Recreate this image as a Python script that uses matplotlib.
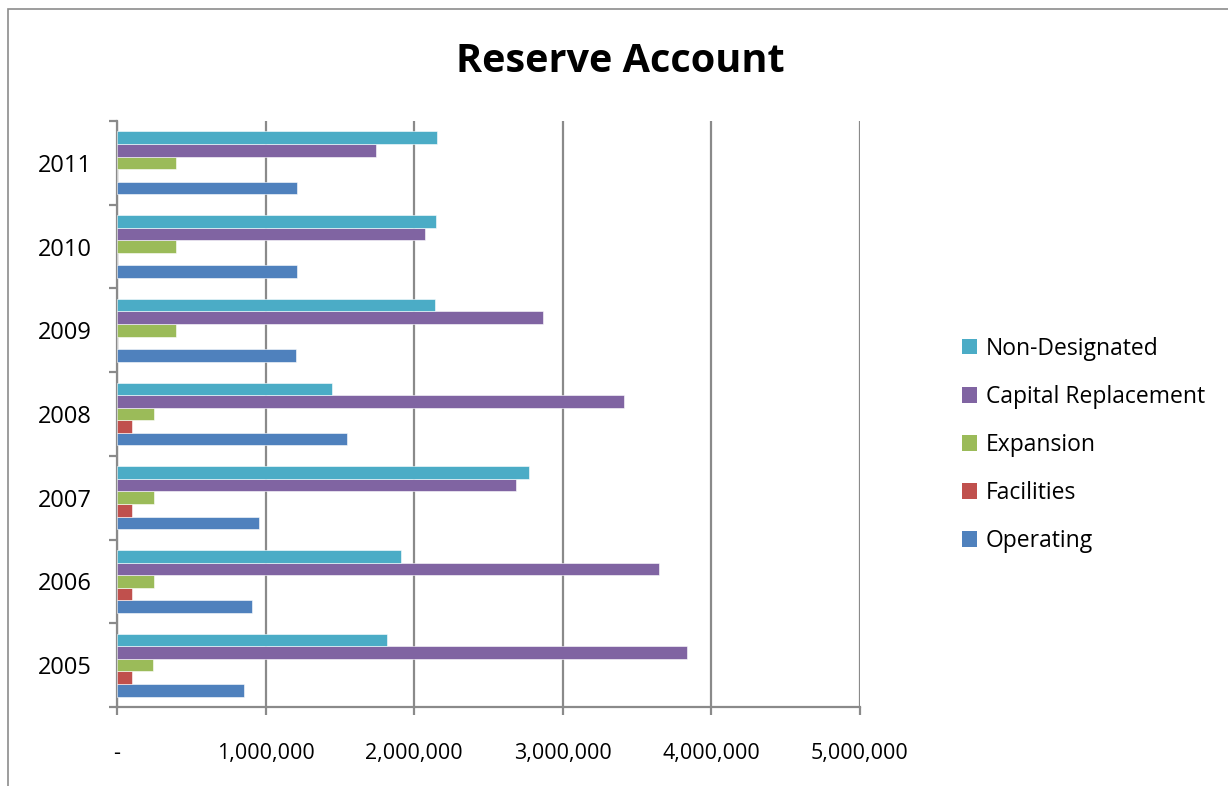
import matplotlib
matplotlib.use("Agg")
import matplotlib.pyplot as plt
from matplotlib.patches import Rectangle, Patch
from matplotlib.ticker import FixedLocator, FuncFormatter
import numpy as np

years = ["2005", "2006", "2007", "2008", "2009", "2010", "2011"]
series_names = ["Operating", "Facilities", "Expansion", "Capital Replacement", "Non-Designated"]
operating = [857000, 906000, 954000, 1549000, 1207000, 1208000, 1210000]
facilities = [98000, 100000, 100000, 100000, 0, 0, 0]
expansion = [245000, 247000, 247000, 247000, 400000, 398000, 398000]
capital_replacement = [3836000, 3645000, 2688000, 3409000, 2869000, 2076000, 1746000]
non_designated = [1814000, 1909000, 2771000, 1446000, 2143000, 2148000, 2155000]
x_ticks = [0, 1000000, 2000000, 3000000, 4000000, 5000000]

colors = ["#4F81BD", "#C0504D", "#9BBB59", "#8064A2", "#4BACC6"]
series = [operating, facilities, expansion, capital_replacement, non_designated]

plt.rcParams["font.family"] = ["Open Sans", "DejaVu Sans"]

fig = plt.figure(figsize=(12.28, 7.86), dpi=100)
ax = fig.add_axes([117 / 1228, 1 - 707 / 786, (860 - 117) / 1228, (707 - 121) / 786])

# chart frame
fig.patches.append(Rectangle((8 / 1228, -0.1), 1.2, (1 - 9 / 786) + 0.1,
                             transform=fig.transFigure, fill=False,
                             edgecolor="#8c8c8c", linewidth=1.2))

y = np.arange(len(years))
h = 0.15
for k, (vals, c, name) in enumerate(zip(series, colors, series_names)):
    ax.barh(y + (k - 2) * h, vals, height=h, color=c, edgecolor="white",
            linewidth=0.4, label=name, zorder=3)

ax.set_xlim(0, 5000000)
ax.set_ylim(-0.5, len(years) - 0.5)

ax.xaxis.set_major_locator(FixedLocator(x_ticks))
ax.xaxis.set_major_formatter(FuncFormatter(lambda v, p: "-" if v == 0 else f"{int(v):,}"))
ax.grid(axis="x", color="#8a8a8a", linewidth=1.6, zorder=0)

ax.set_yticks(np.arange(-0.5, len(years), 1.0))
ax.set_yticklabels([])
ax.set_yticks(y, minor=True)
ax.set_yticklabels(years, minor=True)
ax.tick_params(axis="y", which="minor", length=0, pad=18, labelsize=17)
ax.tick_params(axis="y", which="major", length=6, width=1.6, color="#8a8a8a")
ax.tick_params(axis="x", length=6, width=1.6, color="#8a8a8a", pad=20, labelsize=15.5)

for s in ["top", "right"]:
    ax.spines[s].set_visible(False)
for s in ["left", "bottom"]:
    ax.spines[s].set_color("#8a8a8a")
    ax.spines[s].set_linewidth(1.6)

fig.text(0.505, 1 - 61 / 786, "Reserve Account", ha="center", va="center",
         fontsize=28.5, fontweight="bold")

handles = [Patch(facecolor=c, edgecolor="none") for c in colors[::-1]]
fig.legend(handles, series_names[::-1], loc="center left",
           bbox_to_anchor=(941 / 1228, 1 - 445 / 786), frameon=False,
           fontsize=16.5, handlelength=0.65, handleheight=0.65, handletextpad=0.4,
           labelspacing=1.05)

fig.savefig("out.png", dpi=100)
